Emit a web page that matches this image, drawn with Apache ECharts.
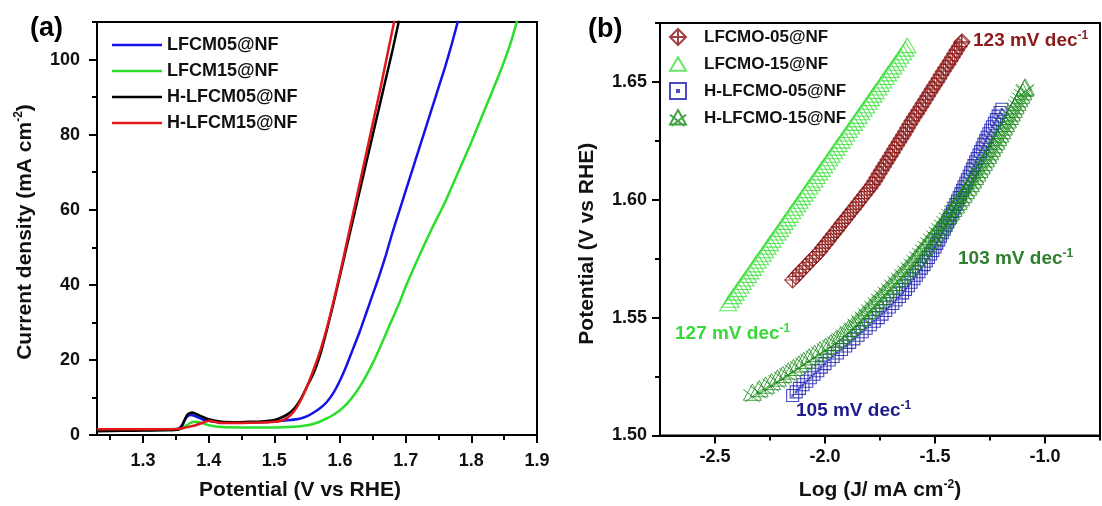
<!DOCTYPE html>
<html>
<head>
<meta charset="utf-8">
<script src="https://cdn.jsdelivr.net/npm/echarts@6/dist/echarts.min.js"></script>
<style>html,body{margin:0;padding:0;background:#fff;}#c{width:1102px;height:506px;}</style>
</head>
<body>
<div id="c"></div>
<script>
// ---------- Panel (a): LSV curves [potential V vs RHE, current density mA cm^-2] ----------
const lfcm05 = [[1.23,1.2],[1.27,1.25],[1.30,1.3],[1.33,1.35],[1.35,1.4],[1.36,2.5],[1.365,4.5],[1.372,5.3],[1.38,5.0],[1.39,4.2],[1.40,3.8],[1.42,3.3],[1.45,3.3],[1.48,3.4],[1.50,3.6],[1.52,3.9],[1.54,4.4],[1.55,5.0],[1.56,6.0],[1.57,7.2],[1.58,8.8],[1.59,11.2],[1.60,14.5],[1.61,18.5],[1.62,23],[1.63,27.5],[1.64,32.5],[1.65,37.5],[1.66,42.5],[1.67,48],[1.68,54],[1.69,59.5],[1.70,65],[1.71,70.5],[1.72,76],[1.73,81.5],[1.74,87],[1.75,92.5],[1.76,98],[1.77,104],[1.78,110.5]];
const lfcm15 = [[1.23,1.3],[1.30,1.3],[1.35,1.4],[1.36,1.8],[1.37,3.0],[1.378,3.5],[1.39,3.2],[1.40,2.6],[1.42,2.1],[1.45,2.0],[1.50,2.0],[1.53,2.2],[1.55,2.6],[1.56,3.0],[1.57,3.6],[1.58,4.4],[1.59,5.4],[1.60,6.6],[1.61,8.2],[1.62,10.3],[1.63,12.8],[1.64,15.8],[1.65,19.2],[1.66,23],[1.67,27],[1.68,31],[1.69,35],[1.70,39.5],[1.72,47.5],[1.74,55],[1.76,62],[1.78,70],[1.80,78],[1.82,86.5],[1.84,95],[1.85,99.5],[1.86,104.5],[1.87,110.5]];
const hLfcm05 = [[1.23,1.0],[1.27,1.1],[1.30,1.2],[1.34,1.3],[1.355,1.5],[1.362,3.5],[1.368,5.5],[1.375,6.0],[1.385,5.3],[1.40,4.2],[1.42,3.5],[1.44,3.4],[1.46,3.5],[1.48,3.6],[1.50,4.0],[1.51,4.6],[1.52,5.5],[1.53,7.0],[1.54,9.5],[1.55,13],[1.56,16.5],[1.57,21.5],[1.58,28],[1.59,35],[1.60,42.5],[1.61,50],[1.62,57.5],[1.63,65],[1.64,72.5],[1.65,80],[1.66,87.5],[1.67,95],[1.68,102.5],[1.69,110.5]];
const hLfcm15 = [[1.23,1.5],[1.30,1.5],[1.35,1.6],[1.36,1.8],[1.37,2.2],[1.38,2.6],[1.39,3.2],[1.40,3.8],[1.41,3.5],[1.42,3.2],[1.45,3.2],[1.48,3.3],[1.50,3.5],[1.51,3.8],[1.52,4.6],[1.53,6.3],[1.54,9.2],[1.55,13],[1.56,17.5],[1.57,22.5],[1.58,28.5],[1.59,35.5],[1.60,43],[1.61,51],[1.62,59],[1.63,67],[1.64,75],[1.65,83],[1.66,91],[1.67,99.5],[1.68,108],[1.685,112]];
const aNames = ['LFCM05@NF','LFCM15@NF','H-LFCM05@NF','H-LFCM15@NF'];
const aXMajor = [1.3,1.4,1.5,1.6,1.7,1.8,1.9];
const aXMinor = [1.25,1.35,1.45,1.55,1.65,1.75,1.85];
const aYMajor = [0,20,40,60,80,100];
const aYMinor = [10,30,50,70,90,110];

// ---------- Panel (b): Tafel plots [log J, potential V] ----------
const lfcmo15 = [[-2.440,1.5560],[-2.429,1.5575],[-2.418,1.5590],[-2.406,1.5605],[-2.395,1.5620],[-2.384,1.5635],[-2.373,1.5650],[-2.362,1.5665],[-2.350,1.5680],[-2.339,1.5695],[-2.328,1.5710],[-2.317,1.5725],[-2.306,1.5740],[-2.295,1.5755],[-2.283,1.5770],[-2.272,1.5785],[-2.261,1.5800],[-2.250,1.5815],[-2.239,1.5830],[-2.227,1.5845],[-2.216,1.5860],[-2.205,1.5875],[-2.194,1.5890],[-2.183,1.5905],[-2.171,1.5920],[-2.160,1.5935],[-2.149,1.5950],[-2.138,1.5965],[-2.127,1.5980],[-2.116,1.5995],[-2.104,1.6010],[-2.093,1.6025],[-2.082,1.6040],[-2.071,1.6055],[-2.060,1.6070],[-2.048,1.6085],[-2.037,1.6100],[-2.026,1.6115],[-2.015,1.6130],[-2.004,1.6145],[-1.992,1.6160],[-1.981,1.6175],[-1.970,1.6190],[-1.959,1.6205],[-1.948,1.6220],[-1.937,1.6235],[-1.925,1.6250],[-1.914,1.6265],[-1.903,1.6280],[-1.892,1.6295],[-1.881,1.6310],[-1.869,1.6325],[-1.858,1.6340],[-1.847,1.6355],[-1.836,1.6370],[-1.825,1.6385],[-1.813,1.6400],[-1.802,1.6415],[-1.791,1.6430],[-1.780,1.6445],[-1.769,1.6460],[-1.757,1.6475],[-1.746,1.6490],[-1.735,1.6505],[-1.724,1.6520],[-1.713,1.6535],[-1.701,1.6550],[-1.690,1.6565],[-1.679,1.6580],[-1.668,1.6595],[-1.657,1.6610],[-1.645,1.6625],[-1.634,1.6640],[-1.626,1.6655]];
const lfcmo05 = [[-2.147,1.5660],[-2.132,1.5675],[-2.117,1.5690],[-2.101,1.5705],[-2.086,1.5720],[-2.071,1.5735],[-2.056,1.5750],[-2.040,1.5765],[-2.025,1.5780],[-2.012,1.5795],[-1.999,1.5810],[-1.986,1.5825],[-1.974,1.5840],[-1.961,1.5855],[-1.948,1.5870],[-1.936,1.5885],[-1.923,1.5900],[-1.910,1.5915],[-1.897,1.5930],[-1.885,1.5945],[-1.872,1.5960],[-1.859,1.5975],[-1.847,1.5990],[-1.834,1.6005],[-1.821,1.6020],[-1.809,1.6035],[-1.796,1.6050],[-1.784,1.6065],[-1.774,1.6080],[-1.764,1.6095],[-1.754,1.6110],[-1.744,1.6125],[-1.734,1.6140],[-1.724,1.6155],[-1.714,1.6170],[-1.704,1.6185],[-1.694,1.6200],[-1.684,1.6215],[-1.674,1.6230],[-1.664,1.6245],[-1.654,1.6260],[-1.644,1.6275],[-1.634,1.6290],[-1.625,1.6305],[-1.615,1.6320],[-1.605,1.6335],[-1.595,1.6350],[-1.584,1.6365],[-1.574,1.6380],[-1.564,1.6395],[-1.554,1.6410],[-1.543,1.6425],[-1.533,1.6440],[-1.523,1.6455],[-1.513,1.6470],[-1.503,1.6485],[-1.492,1.6500],[-1.482,1.6515],[-1.472,1.6530],[-1.462,1.6545],[-1.452,1.6560],[-1.441,1.6575],[-1.431,1.6590],[-1.421,1.6605],[-1.411,1.6620],[-1.401,1.6635],[-1.390,1.6650],[-1.380,1.6665],[-1.377,1.6670]];
const hLfcmo05 = [[-2.147,1.5170],[-2.131,1.5185],[-2.116,1.5200],[-2.100,1.5215],[-2.083,1.5230],[-2.067,1.5245],[-2.050,1.5260],[-2.033,1.5275],[-2.017,1.5290],[-2.000,1.5305],[-1.981,1.5320],[-1.963,1.5335],[-1.944,1.5350],[-1.925,1.5365],[-1.906,1.5380],[-1.888,1.5395],[-1.869,1.5410],[-1.850,1.5425],[-1.831,1.5440],[-1.813,1.5455],[-1.794,1.5470],[-1.776,1.5485],[-1.758,1.5500],[-1.741,1.5515],[-1.724,1.5530],[-1.708,1.5545],[-1.692,1.5560],[-1.677,1.5575],[-1.662,1.5590],[-1.647,1.5605],[-1.634,1.5620],[-1.621,1.5635],[-1.609,1.5650],[-1.596,1.5665],[-1.585,1.5680],[-1.573,1.5695],[-1.562,1.5710],[-1.550,1.5725],[-1.540,1.5740],[-1.530,1.5755],[-1.520,1.5770],[-1.510,1.5785],[-1.500,1.5800],[-1.492,1.5815],[-1.483,1.5830],[-1.475,1.5845],[-1.467,1.5860],[-1.458,1.5875],[-1.450,1.5890],[-1.443,1.5905],[-1.435,1.5920],[-1.428,1.5935],[-1.420,1.5950],[-1.413,1.5965],[-1.405,1.5980],[-1.398,1.5995],[-1.390,1.6010],[-1.383,1.6025],[-1.375,1.6040],[-1.368,1.6055],[-1.360,1.6070],[-1.353,1.6085],[-1.345,1.6100],[-1.338,1.6115],[-1.330,1.6130],[-1.323,1.6145],[-1.315,1.6160],[-1.308,1.6175],[-1.300,1.6190],[-1.293,1.6205],[-1.285,1.6220],[-1.278,1.6235],[-1.270,1.6250],[-1.263,1.6265],[-1.255,1.6280],[-1.247,1.6295],[-1.239,1.6310],[-1.230,1.6325],[-1.221,1.6340],[-1.213,1.6355],[-1.204,1.6370],[-1.196,1.6384]];
const hLfcmo15 = [[-2.330,1.5180],[-2.299,1.5195],[-2.270,1.5210],[-2.243,1.5225],[-2.216,1.5240],[-2.192,1.5255],[-2.167,1.5270],[-2.143,1.5285],[-2.119,1.5300],[-2.096,1.5315],[-2.072,1.5330],[-2.047,1.5345],[-2.022,1.5360],[-1.997,1.5375],[-1.973,1.5390],[-1.951,1.5405],[-1.930,1.5420],[-1.911,1.5435],[-1.893,1.5450],[-1.874,1.5465],[-1.857,1.5480],[-1.841,1.5495],[-1.825,1.5510],[-1.810,1.5525],[-1.795,1.5540],[-1.780,1.5555],[-1.765,1.5570],[-1.750,1.5585],[-1.735,1.5600],[-1.720,1.5615],[-1.705,1.5630],[-1.690,1.5645],[-1.675,1.5660],[-1.660,1.5675],[-1.645,1.5690],[-1.630,1.5705],[-1.616,1.5720],[-1.602,1.5735],[-1.589,1.5750],[-1.576,1.5765],[-1.563,1.5780],[-1.551,1.5795],[-1.538,1.5810],[-1.526,1.5825],[-1.513,1.5840],[-1.501,1.5855],[-1.488,1.5870],[-1.476,1.5885],[-1.464,1.5900],[-1.453,1.5915],[-1.441,1.5930],[-1.430,1.5945],[-1.418,1.5960],[-1.407,1.5975],[-1.395,1.5990],[-1.384,1.6005],[-1.373,1.6020],[-1.362,1.6035],[-1.351,1.6050],[-1.340,1.6065],[-1.330,1.6080],[-1.320,1.6095],[-1.310,1.6110],[-1.300,1.6125],[-1.290,1.6140],[-1.280,1.6155],[-1.271,1.6170],[-1.261,1.6185],[-1.252,1.6200],[-1.243,1.6215],[-1.233,1.6230],[-1.224,1.6245],[-1.215,1.6260],[-1.206,1.6275],[-1.197,1.6290],[-1.189,1.6305],[-1.180,1.6320],[-1.171,1.6335],[-1.162,1.6350],[-1.153,1.6365],[-1.144,1.6380],[-1.136,1.6395],[-1.127,1.6410],[-1.119,1.6425],[-1.110,1.6440],[-1.101,1.6455],[-1.093,1.6470],[-1.090,1.6475]];
const bNames = ['LFCMO-05@NF','LFCMO-15@NF','H-LFCMO-05@NF','H-LFCMO-15@NF'];
const bXMajor = [-2.5,-2.0,-1.5,-1.0];
const bXMinor = [-2.25,-1.75,-1.25,-0.75];
const bYMajor = [1.50,1.55,1.60,1.65];
const bYMinor = [1.525,1.575,1.625,1.675];
const tafelLabels = ['127 mV dec','123 mV dec','105 mV dec','103 mV dec'];

const FF = '"Liberation Sans", Arial, sans-serif';
const chart = echarts.init(document.getElementById('c'), null, {renderer:'canvas'});

function majorAxis(grid, min, max, major, digits, margin, extra) {
  return Object.assign({
    type:'value', gridIndex:grid, min:min, max:max,
    axisLine:{show:true, onZero:false, lineStyle:{color:'#000', width:2}},
    axisTick:{show:true, inside:false, length:8, lineStyle:{color:'#000', width:2}, customValues:major},
    axisLabel:{show:true, margin:margin, customValues:major, formatter:v=>Number(v).toFixed(digits), fontFamily:FF, fontSize:18, fontWeight:'bold', color:'#111'},
    splitLine:{show:false}
  }, extra);
}
function minorAxis(grid, min, max, minor, pos) {
  return {
    type:'value', gridIndex:grid, min:min, max:max, position:pos, name:'',
    axisLine:{show:false, onZero:false},
    axisTick:{show:true, inside:false, length:5, lineStyle:{color:'#000', width:2}, customValues:minor},
    axisLabel:{show:false}, splitLine:{show:false}
  };
}
const nameStyle = (pad) => ({
  padding: pad,
  rich:{
    n:{fontFamily:FF, fontSize:21, fontWeight:'bold', color:'#111', lineHeight:24},
    s:{fontFamily:FF, fontSize:12, fontWeight:'bold', color:'#111', lineHeight:10, verticalAlign:'top'}
  }
});

const emptyStyle = (c, w) => ({color:'rgba(0,0,0,0)', borderColor:c, borderWidth:w||1});
const symTriangle = 'path://M0,-9L10,8L-10,8Z';
const symDiamondCross = 'path://M0,-10L10,0L0,10L-10,0Z M0,-10L0,10 M-10,0L10,0';
const symSquareDot = 'path://M-10,-10L10,-10L10,10L-10,10Z M-1.2,-1.2L1.2,-1.2L1.2,1.2L-1.2,1.2Z';
const symStarTri = 'path://M0,-10L10,8L-10,8Z M-10,-4L8,10 M10,-4L-8,10';

function annot(x, y, txt, color) {
  return {type:'text', x:x, y:y, z:100, style:{
    text:'{m|'+txt+'}{s|-1}', verticalAlign:'middle', align:'left',
    rich:{m:{fontFamily:FF, fontSize:19, fontWeight:'bold', fill:color, color:color, lineHeight:22},
          s:{fontFamily:FF, fontSize:12, fontWeight:'bold', fill:color, color:color, lineHeight:10, verticalAlign:'top'}}
  }};
}

const option = {
  animation:false,
  backgroundColor:'#fff',
  grid:[
    {left:97, top:22, width:440, height:417, show:true, borderColor:'#000', borderWidth:2, backgroundColor:'transparent'},
    {left:660, top:23, width:440, height:417, show:true, borderColor:'#000', borderWidth:2, backgroundColor:'transparent'}
  ],
  xAxis:[
    majorAxis(0, 1.23, 1.9, aXMajor, 1, 17, {position:'bottom', name:'Potential (V vs RHE)', nameLocation:'middle', nameGap:45,
      nameTextStyle:{fontFamily:FF, fontSize:21, fontWeight:'bold', color:'#111', padding:[0,34,0,0]}}),
    minorAxis(0, 1.23, 1.9, aXMinor, 'bottom'),
    majorAxis(1, -2.75, -0.75, bXMajor, 1, 13, {position:'bottom', name:'{n|Log (J/ mA cm}{s|-2}{n|)}', nameLocation:'middle', nameGap:43,
      nameTextStyle:nameStyle([0,0,0,0])}),
    minorAxis(1, -2.75, -0.75, bXMinor, 'bottom')
  ],
  yAxis:[
    majorAxis(0, 0, 110, aYMajor, 0, 17, {position:'left', name:'{n|Current density (mA cm}{s|-2}{n|)}', nameLocation:'middle', nameGap:60,
      nameTextStyle:nameStyle([0,7,0,0])}),
    minorAxis(0, 0, 110, aYMinor, 'left'),
    majorAxis(1, 1.5, 1.675, bYMajor, 2, 13, {position:'left', name:'Potential (V vs RHE)', nameLocation:'middle', nameGap:62,
      nameTextStyle:{fontFamily:FF, fontSize:21, fontWeight:'bold', color:'#111', padding:[0,29,0,0]}}),
    minorAxis(1, 1.5, 1.675, bYMinor, 'left')
  ],
  legend:[
    {data:aNames, orient:'vertical', left:107, top:30, padding:5, icon:'rect', itemWidth:50, itemHeight:2.5, itemGap:6,
     textStyle:{fontFamily:FF, fontSize:18, fontWeight:'bold', color:'#111', lineHeight:20}, selectedMode:false},
    {data:bNames, orient:'vertical', left:664, top:22, padding:5, itemWidth:16, itemHeight:16, itemGap:7,
     textStyle:{fontFamily:FF, fontSize:17, fontWeight:'bold', color:'#111', lineHeight:20, padding:[0,0,0,13]}, selectedMode:false}
  ],
  series:[
    {name:aNames[0], type:'line', xAxisIndex:0, yAxisIndex:0, data:lfcm05, symbol:'none', smooth:0.2, lineStyle:{color:'#1414e6', width:2.5}, itemStyle:{color:'#1414e6'}},
    {name:aNames[1], type:'line', xAxisIndex:0, yAxisIndex:0, data:lfcm15, symbol:'none', smooth:0.2, lineStyle:{color:'#2bde2b', width:2.5}, itemStyle:{color:'#2bde2b'}},
    {name:aNames[2], type:'line', xAxisIndex:0, yAxisIndex:0, data:hLfcm05, symbol:'none', smooth:0.2, lineStyle:{color:'#000', width:2.5}, itemStyle:{color:'#000'}},
    {name:aNames[3], type:'line', xAxisIndex:0, yAxisIndex:0, data:hLfcm15, symbol:'none', smooth:0.2, lineStyle:{color:'#e01818', width:2.5}, itemStyle:{color:'#e01818'}},

    {name:bNames[1], type:'scatter', xAxisIndex:2, yAxisIndex:2, data:lfcmo15, symbol:symTriangle, symbolSize:17, symbolKeepAspect:true, itemStyle:emptyStyle('#3ee03e',1.1)},
    {name:bNames[0], type:'scatter', xAxisIndex:2, yAxisIndex:2, data:lfcmo05, symbol:symDiamondCross, symbolSize:16, symbolKeepAspect:true, itemStyle:emptyStyle('#8b1414',1.1)},
    {name:bNames[2], type:'scatter', xAxisIndex:2, yAxisIndex:2, data:hLfcmo05, symbol:symSquareDot, symbolSize:12, symbolKeepAspect:true, itemStyle:emptyStyle('#1c1cb0',1.1)},
    {name:bNames[3], type:'scatter', xAxisIndex:2, yAxisIndex:2, data:hLfcmo15, symbol:symStarTri, symbolSize:18, symbolKeepAspect:true, itemStyle:emptyStyle('#178a17',1)}
  ],
  graphic:[
    {type:'text', x:30, y:29, style:{text:'(a)', font:'bold 27px '+FF, fill:'#000', verticalAlign:'middle'}},
    {type:'text', x:588, y:30, style:{text:'(b)', font:'bold 27px '+FF, fill:'#000', verticalAlign:'middle'}},
    annot(675, 334, tafelLabels[0], '#3ad83a'),
    annot(973, 41, tafelLabels[1], '#8b1a1a'),
    annot(796, 411, tafelLabels[2], '#1c1c8a'),
    annot(958, 259, tafelLabels[3], '#2f7f2f')
  ]
};
chart.setOption(option);
</script>
</body>
</html>
